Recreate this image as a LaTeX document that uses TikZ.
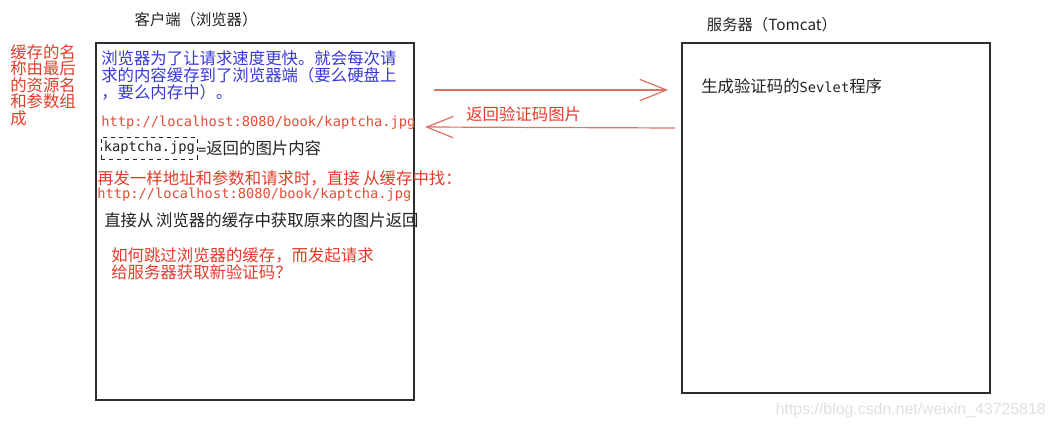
\documentclass[tikz,border=0pt]{standalone}
\usepackage{fontspec}
\setmainfont{Noto Sans CJK SC}
\newfontfamily\urlfont{DejaVu Sans Mono}
\newfontfamily\markfont{Liberation Sans}
\usetikzlibrary{arrows.meta, positioning}
\definecolor{notered}{RGB}{228,60,42}
\definecolor{urlred}{RGB}{226,78,52}
\definecolor{noteblue}{RGB}{56,56,216}
\definecolor{arrowred}{RGB}{222,112,100}
\definecolor{framegray}{RGB}{45,45,45}
\definecolor{textgray}{RGB}{35,35,35}
\definecolor{markgray}{RGB}{224,224,224}

\begin{document}
\begin{tikzpicture}[x=0.75pt, y=-0.75pt,
% boxes for client and server
frame/.style={draw=framegray, line width=0.8pt},
cache/.style={draw=textgray, dashed, line width=0.6pt, inner sep=0, minimum width=72pt, minimum height=16.5pt, font=\urlfont\fontsize{10.3}{12}\selectfont, text=textgray},
% request and response arrows
flow/.style={draw=arrowred, line width=0.9pt, -{Straight Barb[length=20pt, width=16pt, line width=0.9pt]}},
% annotations
annot/.style={inner sep=0, font=\fontsize{12.3}{12.8}\selectfont, text=textgray},
line/.style={annot, anchor=west},
block/.style={annot, anchor=north west, align=left},
redannot/.style={text=notered},
blueannot/.style={text=noteblue},
url/.style={line, text=urlred, font=\urlfont\fontsize{10.3}{12}\selectfont},
title/.style={annot, font=\fontsize{11.5}{12}\selectfont},
watermark/.style={inner sep=0, anchor=east, text=markgray, font=\markfont\fontsize{11.9}{13}\selectfont}
]

\fill[white] (0,0) rectangle (1056,428);
\useasboundingbox (0,0) rectangle (1056,428);

% BOXES
\draw[frame] (96,43) rectangle (414,400);
\draw[frame] (682,43) rectangle (990,393);
\path
(196,20) node[title] (client) {客户端（浏览器）}
(772,25) node[title] (server) {服务器（Tomcat）}
;

% ARROWS
\coordinate (reqstart) at (434,90); % request to the server
\coordinate (reqend) at (668,90);
\coordinate (respstart) at (675,128); % response with the picture
\coordinate (respend) at (425,127);
\draw[flow] (reqstart) -- (reqend);
\draw[flow] (respstart) -- (respend);
\path (466,114) node[line, redannot] (resp) {返回验证码图片};

% CLIENT SIDE
\path
(10,44) node[block, redannot, font=\fontsize{12.3}{12.4}\selectfont] (cachename) {缓存的名\\称由最后\\的资源名\\和参数组\\成}
(101,50) node[block, blueannot, font=\fontsize{12.3}{12.75}\selectfont] (browser) {浏览器为了让请求速度更快。就会每次请\\求的内容缓存到了浏览器端（要么硬盘上\\，要么内存中）。}
(101,123) node[url] (url1) {http://localhost:8080/book/kaptcha.jpg}
(101,148) node[cache, anchor=west] (img) {kaptcha.jpg}
;
\node[line, right=0pt of img] (imgtext) {{\urlfont\fontsize{10.3}{12}\selectfont =}返回的图片内容};
\path
(97,178) node[line, redannot] (again) {再发一样地址和参数和请求时，直接 从缓存中找：}
(97,195) node[url] (url2) {http://localhost:8080/book/kaptcha.jpg}
(104,220) node[line] (fromcache) {直接从\,浏览器的缓存中获取原来的图片返回}
(111,247) node[block, redannot, font=\fontsize{12.3}{12.75}\selectfont] (skip) {如何跳过浏览器的缓存，而发起请求\\给服务器获取新验证码？}
;

% SERVER SIDE
\path (701,86) node[line] (servlet) {生成验证码的{\urlfont\fontsize{10.3}{12}\selectfont Sevlet}程序};

% watermark
\path (1046,410) node[watermark] (wm) {https://blog.csdn.net/weixin\_43725818};

\end{tikzpicture}
\end{document}
